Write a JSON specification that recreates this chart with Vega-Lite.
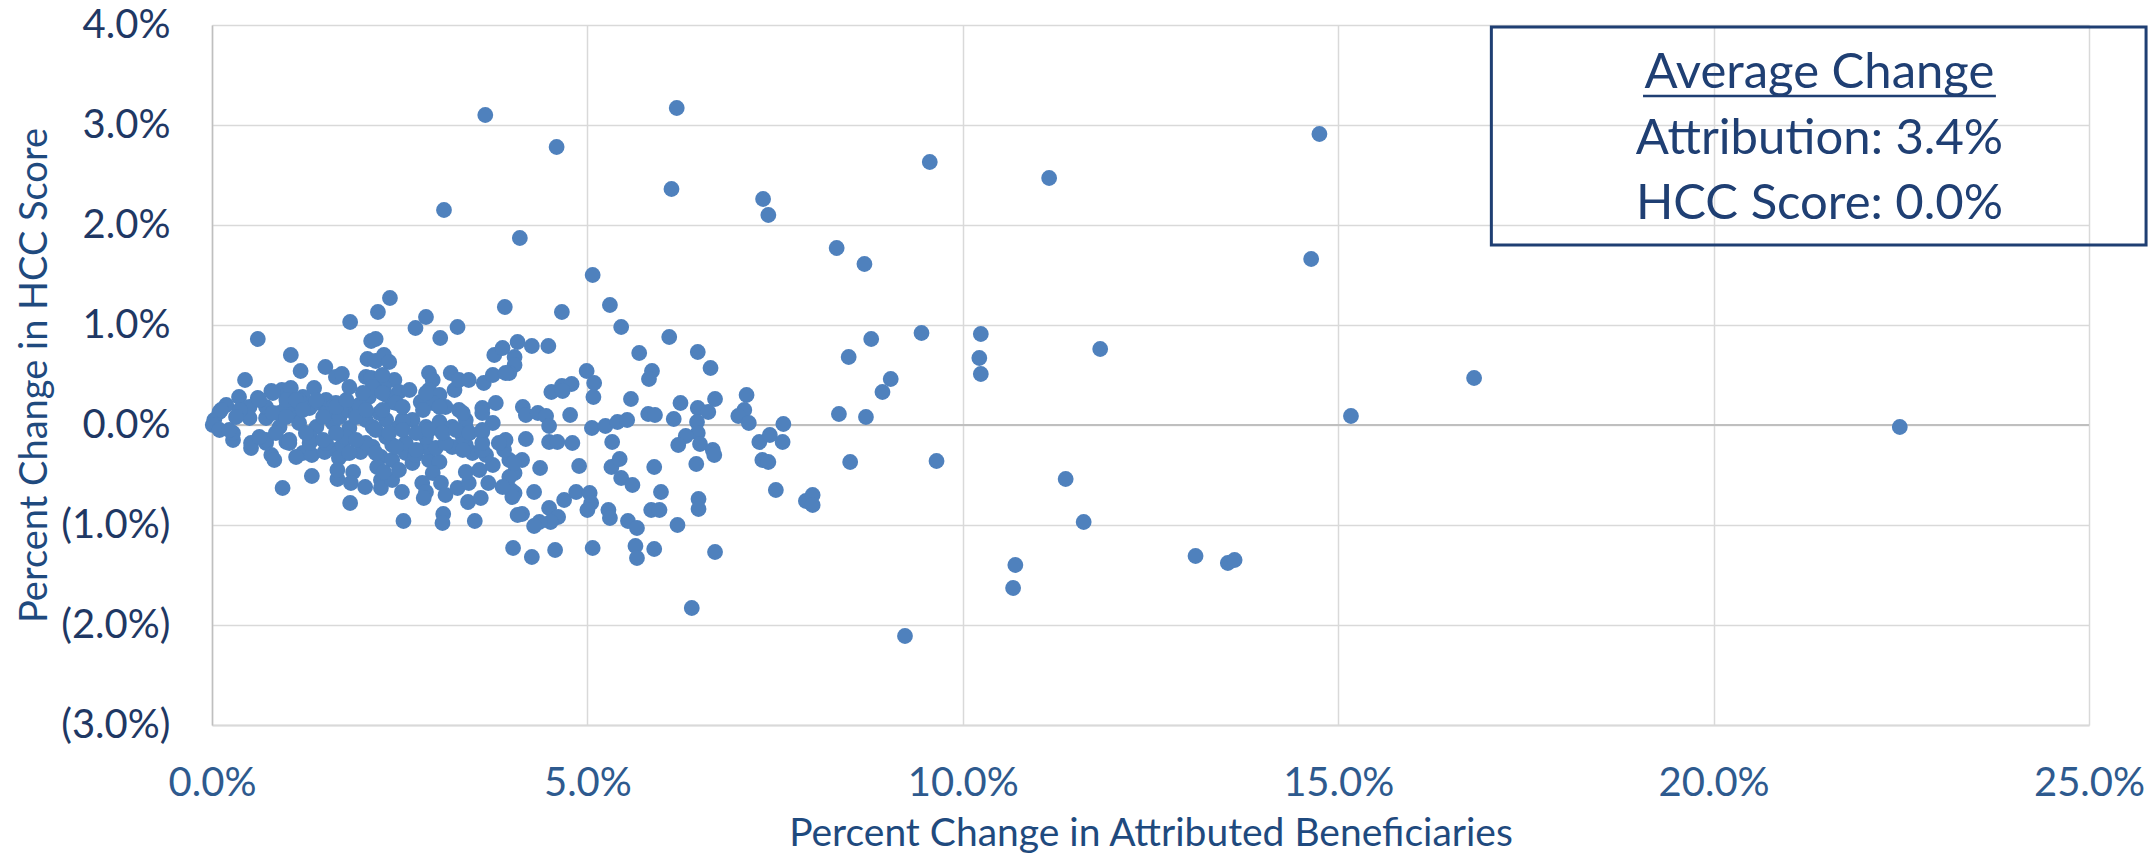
{
  "$schema": "https://vega.github.io/schema/vega-lite/v6.json",
  "autosize": {"type": "none"},
  "padding": {"left": 212, "top": 25, "right": 59, "bottom": 137},
  "width": 1877,
  "height": 700,
  "background": "white",
  "config": {"view": {"stroke": null}, "font": "Lato"},
  "data": {"values": [
    {"a":3.64,"h":3.10},{"a":6.19,"h":3.17},{"a":4.59,"h":2.78},{"a":6.12,"h":2.36},{"a":3.09,"h":2.15},{"a":7.34,"h":2.26},{"a":7.41,"h":2.10},{"a":9.56,"h":2.63},{"a":11.15,"h":2.47},{"a":14.75,"h":2.91},{"a":14.64,"h":1.66},{"a":4.10,"h":1.87},{"a":8.32,"h":1.77},{"a":8.69,"h":1.61},{"a":15.17,"h":0.09},{"a":16.81,"h":0.47},{"a":22.48,"h":-0.02},{"a":13.10,"h":-1.31},{"a":13.53,"h":-1.38},{"a":13.62,"h":-1.35},{"a":9.23,"h":-2.11},
    {"a":8.78,"h":0.86},{"a":8.48,"h":0.68},{"a":9.45,"h":0.92},{"a":9.04,"h":0.46},{"a":8.93,"h":0.33},{"a":8.35,"h":0.11},{"a":8.71,"h":0.08},{"a":10.24,"h":0.91},{"a":10.22,"h":0.67},{"a":10.24,"h":0.51},{"a":11.83,"h":0.76},
    {"a":8.50,"h":-0.37},{"a":9.65,"h":-0.36},{"a":11.37,"h":-0.54},{"a":11.61,"h":-0.97},{"a":10.70,"h":-1.40},{"a":10.67,"h":-1.63},
    {"a":5.07,"h":1.50},{"a":4.66,"h":1.13},{"a":5.30,"h":1.20},{"a":5.45,"h":0.98},{"a":3.90,"h":1.18},{"a":6.09,"h":0.88},{"a":6.47,"h":0.73},{"a":6.64,"h":0.57},{"a":5.69,"h":0.72},{"a":5.86,"h":0.54},{"a":5.82,"h":0.46},{"a":4.07,"h":0.83},{"a":4.26,"h":0.79},{"a":4.48,"h":0.79},{"a":4.03,"h":0.68},{"a":4.03,"h":0.60},{"a":3.96,"h":0.52},{"a":4.99,"h":0.54},{"a":5.09,"h":0.42},{"a":5.08,"h":0.28},{"a":4.52,"h":0.33},{"a":4.66,"h":0.39},{"a":4.79,"h":0.41},{"a":4.67,"h":0.34},{"a":5.58,"h":0.26},{"a":6.24,"h":0.22},{"a":6.70,"h":0.26},{"a":7.12,"h":0.30},{"a":6.47,"h":0.17},{"a":6.61,"h":0.13},{"a":7.09,"h":0.15},{"a":7.01,"h":0.09},{"a":7.15,"h":0.02},{"a":7.61,"h":0.01},{"a":5.81,"h":0.11},{"a":5.90,"h":0.10},{"a":6.15,"h":0.06},{"a":6.46,"h":0.03},{"a":6.47,"h":-0.08},{"a":6.31,"h":-0.11},{"a":6.21,"h":-0.20},{"a":6.50,"h":-0.19},{"a":4.14,"h":0.18},{"a":4.18,"h":0.10},{"a":4.34,"h":0.12},{"a":4.45,"h":0.09},{"a":4.49,"h":-0.01},{"a":4.77,"h":0.10},{"a":5.06,"h":-0.03},{"a":5.24,"h":-0.01},{"a":5.40,"h":0.03},{"a":5.53,"h":0.05},{"a":5.33,"h":-0.17},{"a":4.18,"h":-0.14},{"a":4.49,"h":-0.17},{"a":4.60,"h":-0.17},{"a":4.80,"h":-0.18},{"a":7.29,"h":-0.17},{"a":7.43,"h":-0.10},{"a":7.60,"h":-0.17},{"a":6.67,"h":-0.25},
    {"a":6.69,"h":-0.30},{"a":3.96,"h":-0.35},{"a":4.13,"h":-0.35},{"a":4.03,"h":-0.48},{"a":4.03,"h":-0.68},{"a":4.37,"h":-0.43},{"a":4.89,"h":-0.41},{"a":5.32,"h":-0.42},{"a":5.43,"h":-0.34},{"a":5.45,"h":-0.53},{"a":5.60,"h":-0.60},{"a":5.89,"h":-0.42},{"a":6.45,"h":-0.39},{"a":7.33,"h":-0.35},{"a":7.41,"h":-0.37},{"a":4.29,"h":-0.67},{"a":4.69,"h":-0.75},{"a":4.85,"h":-0.67},{"a":5.03,"h":-0.68},{"a":5.05,"h":-0.78},{"a":5.00,"h":-0.85},{"a":4.13,"h":-0.89},{"a":4.49,"h":-0.83},{"a":4.61,"h":-0.92},{"a":4.51,"h":-0.97},{"a":4.36,"h":-0.97},{"a":4.29,"h":-1.01},{"a":5.28,"h":-0.85},{"a":5.30,"h":-0.93},{"a":5.54,"h":-0.96},{"a":5.66,"h":-1.03},{"a":5.98,"h":-0.67},{"a":5.85,"h":-0.85},{"a":5.96,"h":-0.85},{"a":6.20,"h":-1.00},{"a":6.48,"h":-0.74},{"a":6.48,"h":-0.84},{"a":7.51,"h":-0.65},{"a":7.91,"h":-0.76},{"a":8.00,"h":-0.70},{"a":8.00,"h":-0.80},{"a":4.01,"h":-1.23},{"a":4.26,"h":-1.32},{"a":4.57,"h":-1.25},{"a":5.07,"h":-1.23},{"a":5.64,"h":-1.21},{"a":5.66,"h":-1.33},{"a":5.89,"h":-1.24},{"a":6.70,"h":-1.27},{"a":6.39,"h":-1.83},
    {"a":0.28,"h":-0.15},{"a":0.52,"h":-0.23},{"a":0.79,"h":-0.30},{"a":0.83,"h":-0.35},{"a":0.94,"h":-0.63},{"a":1.21,"h":-0.28},{"a":1.33,"h":-0.30},{"a":1.50,"h":-0.27},{"a":1.33,"h":-0.51},{"a":1.67,"h":-0.54},{"a":1.65,"h":-0.25},{"a":1.78,"h":-0.28},{"a":1.69,"h":-0.33},{"a":1.88,"h":-0.47},{"a":1.85,"h":-0.58},{"a":2.04,"h":-0.62},{"a":1.84,"h":-0.78},{"a":1.98,"h":-0.27},{"a":2.25,"h":-0.32},{"a":2.20,"h":-0.42},{"a":2.40,"h":-0.35},{"a":2.58,"h":-0.28},{"a":2.25,"h":-0.55},{"a":2.25,"h":-0.63},{"a":2.40,"h":-0.55},{"a":2.53,"h":-0.67},{"a":2.29,"h":-0.47},{"a":2.49,"h":-0.45},{"a":2.55,"h":-0.96},{"a":2.67,"h":-0.38},{"a":2.71,"h":-0.30},{"a":2.89,"h":-0.35},{"a":3.03,"h":-0.37},{"a":2.94,"h":-0.48},{"a":2.80,"h":-0.58},{"a":2.85,"h":-0.67},{"a":2.82,"h":-0.73},{"a":3.05,"h":-0.58},{"a":3.11,"h":-0.70},{"a":3.27,"h":-0.63},{"a":3.42,"h":-0.58},{"a":3.08,"h":-0.89},{"a":3.07,"h":-0.98},{"a":3.41,"h":-0.77},{"a":3.58,"h":-0.73},{"a":3.50,"h":-0.96},{"a":3.38,"h":-0.47},{"a":3.56,"h":-0.45},{"a":3.74,"h":-0.40},{"a":3.65,"h":-0.30},{"a":3.47,"h":-0.28},{"a":3.68,"h":-0.58},{"a":3.96,"h":-0.52},{"a":3.98,"h":-0.65},{"a":4.00,"h":-0.72},{"a":3.89,"h":-0.25},{"a":4.02,"h":-0.38},{"a":4.07,"h":-0.90},{"a":3.20,"h":-0.22},{"a":3.38,"h":-0.20},{"a":3.60,"h":-0.25},{"a":2.85,"h":-0.22},{"a":2.98,"h":-0.23},{"a":0.72,"h":-0.18},{"a":0.99,"h":-0.17},{"a":1.30,"h":-0.18},{"a":1.74,"h":-0.20},{"a":2.14,"h":-0.22},{"a":2.40,"h":-0.20},{"a":3.87,"h":-0.62},{"a":1.67,"h":-0.45},
    {"a":2.37,"h":1.27},{"a":2.21,"h":1.13},{"a":1.84,"h":1.03},{"a":0.61,"h":0.86},{"a":2.85,"h":1.08},{"a":2.71,"h":0.97},{"a":3.27,"h":0.98},{"a":3.04,"h":0.87},{"a":2.12,"h":0.84},{"a":2.18,"h":0.86},{"a":2.07,"h":0.66},{"a":2.18,"h":0.64},{"a":2.29,"h":0.70},{"a":2.36,"h":0.63},{"a":1.05,"h":0.70},{"a":1.18,"h":0.54},{"a":1.51,"h":0.58},{"a":1.65,"h":0.48},{"a":1.73,"h":0.51},{"a":0.44,"h":0.45},{"a":0.36,"h":0.28},{"a":1.36,"h":0.37},{"a":0.79,"h":0.34},{"a":0.93,"h":0.35},{"a":1.05,"h":0.37},{"a":0.61,"h":0.27},{"a":0.50,"h":0.18},{"a":0.19,"h":0.20},{"a":0.10,"h":0.13},{"a":0.03,"h":0.05},{"a":0.01,"h":0.00},{"a":0.10,"h":-0.05},{"a":0.28,"h":-0.08},{"a":0.37,"h":0.12},{"a":0.50,"h":0.07},{"a":0.72,"h":0.07},{"a":0.90,"h":0.12},{"a":1.07,"h":0.13},{"a":1.21,"h":0.28},{"a":1.52,"h":0.25},{"a":1.65,"h":0.22},{"a":1.78,"h":0.22},{"a":0.90,"h":-0.02},{"a":1.16,"h":0.02},{"a":1.39,"h":-0.02},{"a":1.61,"h":0.02},{"a":1.83,"h":-0.03},{"a":2.05,"h":0.05},{"a":2.14,"h":-0.02},{"a":2.32,"h":0.05},{"a":2.49,"h":-0.02},{"a":2.67,"h":0.05},{"a":2.85,"h":-0.02},{"a":3.03,"h":0.03},{"a":3.20,"h":-0.02},{"a":3.38,"h":-0.02},{"a":3.60,"h":-0.07},{"a":3.74,"h":0.02},{"a":3.91,"h":-0.15},{"a":2.05,"h":0.48},{"a":2.12,"h":0.47},{"a":2.25,"h":0.48},{"a":2.43,"h":0.45},{"a":2.29,"h":0.38},{"a":2.49,"h":0.33},{"a":2.40,"h":0.23},{"a":2.18,"h":0.35},{"a":2.09,"h":0.28},{"a":2.89,"h":0.52},{"a":2.94,"h":0.45},{"a":2.89,"h":0.35},{"a":3.03,"h":0.30},{"a":2.78,"h":0.23},{"a":2.94,"h":0.22},{"a":3.11,"h":0.18},{"a":3.18,"h":0.52},{"a":3.23,"h":0.35},{"a":3.29,"h":0.45},{"a":3.42,"h":0.45},{"a":3.29,"h":0.15},{"a":3.38,"h":0.05},{"a":3.62,"h":0.42},{"a":3.74,"h":0.50},{"a":3.91,"h":0.52},{"a":3.60,"h":0.17},{"a":3.78,"h":0.22},{"a":3.76,"h":0.70},{"a":3.87,"h":0.77},{"a":2.27,"h":0.50},{"a":2.14,"h":0.38},{"a":2.32,"h":0.30},{"a":2.23,"h":0.12},{"a":2.45,"h":0.22},{"a":2.54,"h":0.05},{"a":0.37,"h":0.15},{"a":0.72,"h":0.18},{"a":0.81,"h":0.12},{"a":0.99,"h":0.18},{"a":0.99,"h":0.25},{"a":1.16,"h":0.25},{"a":1.30,"h":0.17},{"a":1.43,"h":0.22},{"a":1.52,"h":0.12},{"a":1.61,"h":0.18},{"a":1.70,"h":0.08},{"a":1.81,"h":0.15},{"a":1.92,"h":0.12},{"a":1.96,"h":0.20},{"a":0.52,"h":-0.18},{"a":0.72,"h":-0.15},{"a":1.03,"h":-0.18},{"a":1.30,"h":-0.12},{"a":1.52,"h":-0.18},{"a":1.78,"h":-0.12},{"a":2.05,"h":-0.18},{"a":2.32,"h":-0.12},{"a":2.58,"h":-0.18},{"a":2.85,"h":-0.12},{"a":3.11,"h":-0.18},{"a":3.34,"h":-0.12},{"a":3.60,"h":-0.18},{"a":3.82,"h":-0.18},
    {"a":0.12,"h":0.15},{"a":0.23,"h":-0.05},{"a":0.32,"h":0.08},{"a":0.63,"h":0.25},{"a":0.81,"h":0.32},{"a":1.12,"h":0.25},{"a":0.99,"h":0.08},{"a":1.21,"h":0.15},{"a":1.39,"h":0.25},{"a":1.48,"h":0.08},{"a":1.65,"h":0.18},{"a":1.79,"h":0.25},{"a":1.92,"h":0.08},{"a":2.05,"h":0.15},{"a":1.65,"h":-0.08},{"a":1.48,"h":-0.15},{"a":1.25,"h":-0.08},{"a":1.03,"h":-0.15},{"a":0.85,"h":-0.08},{"a":0.63,"h":-0.12},{"a":1.92,"h":-0.15},{"a":2.18,"h":-0.05},{"a":2.36,"h":-0.08},{"a":2.54,"h":-0.05},{"a":2.72,"h":-0.08},{"a":2.89,"h":-0.05},{"a":3.07,"h":-0.08},{"a":3.25,"h":-0.05},{"a":3.43,"h":-0.08},{"a":3.60,"h":-0.05},{"a":2.27,"h":0.15},{"a":2.54,"h":0.18},{"a":2.81,"h":0.15},{"a":3.03,"h":0.18},{"a":3.34,"h":0.12},{"a":3.60,"h":0.12},{"a":2.45,"h":-0.22},{"a":2.72,"h":-0.25},{"a":3.34,"h":-0.25},{"a":2.18,"h":-0.28},{"a":1.12,"h":-0.32},{"a":1.83,"h":-0.28},{"a":2.27,"h":0.32},{"a":2.01,"h":0.32},{"a":1.83,"h":0.38},{"a":2.63,"h":0.35},{"a":2.85,"h":0.32}
  ]},
  "layer": [
    {
      "mark": {"type": "rule", "color": "#BFBFBF", "strokeWidth": 1.5},
      "encoding": {"y": {"datum": 0, "type": "quantitative"}}
    },
    {
      "mark": {"type": "circle", "size": 250, "color": "#4F81BD", "opacity": 1},
      "encoding": {
        "x": {
          "field": "a", "type": "quantitative",
          "scale": {"domain": [0, 25], "nice": false, "zero": false},
          "axis": {
            "values": [0, 5, 10, 15, 20, 25],
            "labelExpr": "format(datum.value/100, '.1%')",
            "title": "Percent Change in Attributed Beneficiaries",
            "grid": true, "gridColor": "#D9D9D9", "gridWidth": 1.5,
            "domain": true, "domainColor": "#D9D9D9", "domainWidth": 2,
            "ticks": false, "tickSize": 0,
            "labelFont": "Lato", "labelFontSize": 40, "labelColor": "#2E5A8E",
            "labelPadding": 38, "labelFlush": false, "labelOverlap": false,
            "titleFont": "Lato", "titleFontSize": 39, "titleFontWeight": "normal",
            "titleColor": "#1F4A7E", "titlePadding": 11
          }
        },
        "y": {
          "field": "h", "type": "quantitative",
          "scale": {"domain": [-3, 4], "nice": false, "zero": false},
          "axis": {
            "values": [-3, -2, -1, 0, 1, 2, 3, 4],
            "labelExpr": "datum.value < 0 ? '(' + format(-datum.value/100, '.1%') + ')' : format(datum.value/100, '.1%')",
            "title": "Percent Change in HCC Score",
            "grid": true, "gridColor": "#D9D9D9", "gridWidth": 1.5,
            "domain": true, "domainColor": "#BFBFBF", "domainWidth": 1.5,
            "ticks": false, "tickSize": 0,
            "labelFont": "Lato", "labelFontSize": 40, "labelColor": "#1F3864",
            "labelPadding": 42, "labelFlush": false, "labelOverlap": false,
            "titleFont": "Lato", "titleFontSize": 38, "titleFontWeight": "normal",
            "titleColor": "#1F4A7E", "titlePadding": 6
          }
        }
      }
    },
    {
      "data": {"values": [{}]},
      "mark": {"type": "rect", "fillOpacity": 0, "stroke": "#1F3F73", "strokeWidth": 3},
      "encoding": {
        "x": {"datum": 17.04, "type": "quantitative"},
        "x2": {"datum": 25.76},
        "y": {"datum": 3.98, "type": "quantitative"},
        "y2": {"datum": 1.80}
      }
    },
    {
      "data": {"values": [{}]},
      "mark": {"type": "rule", "color": "#1F3F73", "strokeWidth": 2.5},
      "encoding": {
        "x": {"datum": 19.06, "type": "quantitative"},
        "x2": {"datum": 23.76},
        "y": {"datum": 3.29, "type": "quantitative"}
      }
    },
    {
      "data": {"values": [{}]},
      "mark": {"type": "text", "text": "Average Change", "font": "Lato", "fontSize": 49, "color": "#1F3F73", "align": "center", "baseline": "alphabetic"},
      "encoding": {"x": {"datum": 21.41, "type": "quantitative"}, "y": {"datum": 3.37, "type": "quantitative"}}
    },
    {
      "data": {"values": [{}]},
      "mark": {"type": "text", "text": "Attribution: 3.4%", "font": "Lato", "fontSize": 49, "color": "#1F3F73", "align": "center", "baseline": "alphabetic"},
      "encoding": {"x": {"datum": 21.41, "type": "quantitative"}, "y": {"datum": 2.71, "type": "quantitative"}}
    },
    {
      "data": {"values": [{}]},
      "mark": {"type": "text", "text": "HCC Score: 0.0%", "font": "Lato", "fontSize": 49, "color": "#1F3F73", "align": "center", "baseline": "alphabetic"},
      "encoding": {"x": {"datum": 21.41, "type": "quantitative"}, "y": {"datum": 2.06, "type": "quantitative"}}
    }
  ]
}
